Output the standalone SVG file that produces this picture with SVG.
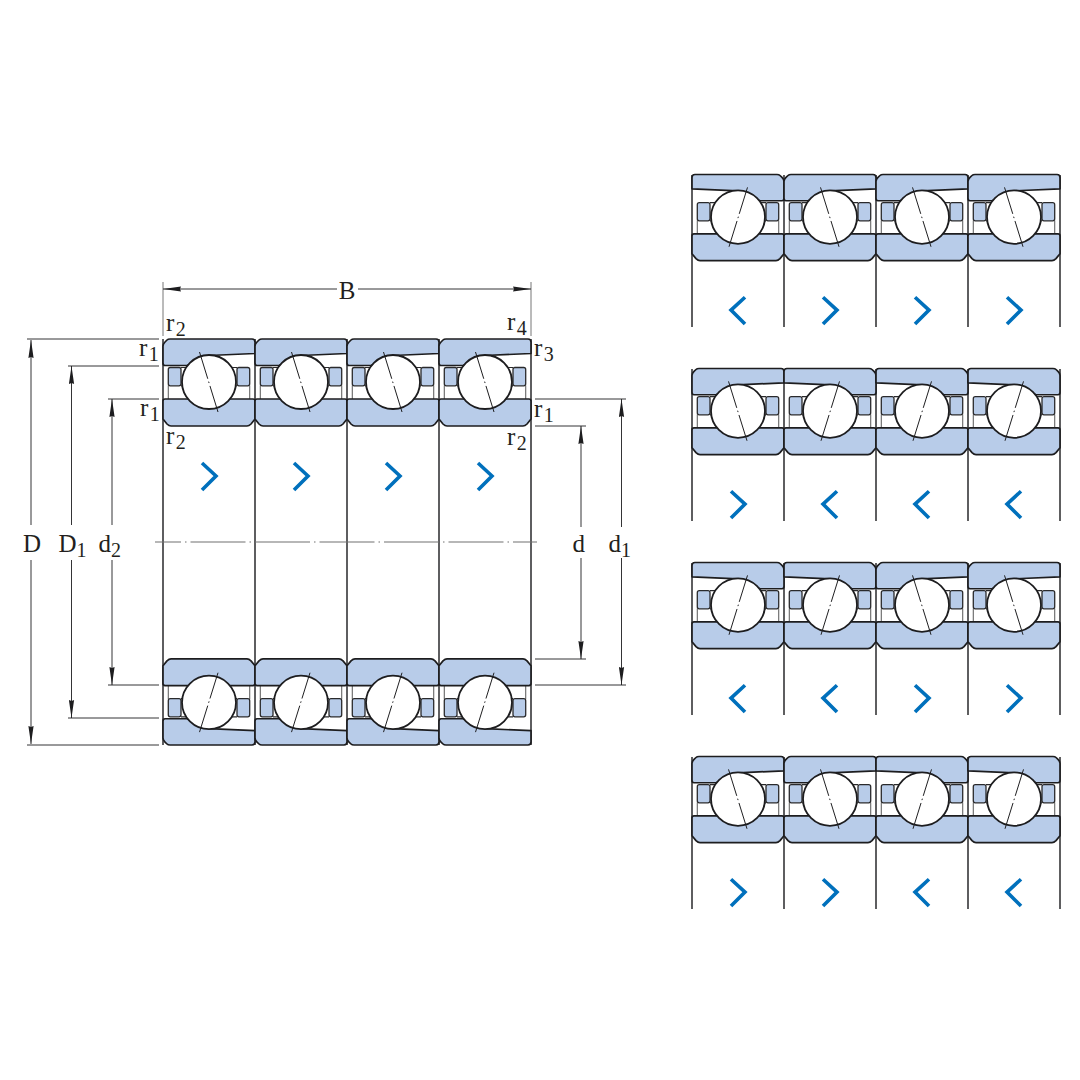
<svg xmlns="http://www.w3.org/2000/svg" width="1080" height="1080" viewBox="0 0 1080 1080">
<style>
.ring{fill:#b8cce9;stroke:#1d1d1f;stroke-width:1.7;stroke-linejoin:round}
.pocket{fill:#b8cce9;stroke:#2a2a2c;stroke-width:1.3}
.cage{fill:none;stroke:#666;stroke-width:1.1}
.cagedark{fill:none;stroke:#2a2a2c;stroke-width:1.2}
.ball{fill:#fff;stroke:#1d1d1f;stroke-width:1.8}
.axis{fill:none;stroke:#1d1d1f;stroke-width:1;stroke-dasharray:28 3 1.5 3 30}
.wall{stroke:#2a2a2c;stroke-width:1.5;fill:none}
.chev{fill:none;stroke:#0070bc;stroke-width:3.6}
.ext{stroke:#1d1d1f;stroke-width:.9;fill:none}
.ext2{stroke:#777;stroke-width:1;fill:none}
.dim{stroke:#1d1d1f;stroke-width:.9;fill:none}
.arr{marker-end:url(#ah)}
.arrs{marker-start:url(#ahs)}
.center{stroke:#707070;stroke-width:1.1;fill:none;stroke-dasharray:1.500 4 55 4;stroke-dashoffset:34.500}
text{font-family:"Liberation Serif","Times New Roman",serif;font-size:25px;fill:#231f20}
.sub{font-size:20px}
</style>
<defs>
<marker id="ah" markerUnits="userSpaceOnUse" markerWidth="18" markerHeight="6" refX="18" refY="3" orient="auto"><path d="M0 0.4L18 3L0 5.6L1 3Z" fill="#1d1d1f"/></marker>
<marker id="ahs" markerUnits="userSpaceOnUse" markerWidth="18" markerHeight="6" refX="0" refY="3" orient="auto"><path d="M18 0.4L0 3L18 5.6L17 3Z" fill="#1d1d1f"/></marker>
<g id="bearing">
<path class="cage" d="M5.300 46.500V60M86.700 46.500V60"/>
<path class="cagedark" d="M18 28.500H74M18 46.800H74"/>
<rect class="pocket" x="5.300" y="28.500" width="12.700" height="18.300" rx="2"/>
<rect class="pocket" x="74" y="28.500" width="12.700" height="18.300" rx="2"/>
<path class="ring" d="M7 0H89Q92 0 92 3V14.500L46 16.500L24 26.500H2Q0 26.500 0 24V7Q0 5 2 3L4 1Q5 0 7 0Z"/>
<path class="ring" d="M2 60H90Q92 60 92 62V80L88 85Q86 87 84 87H8Q6 87 4 85L0 80V62Q0 60 2 60Z"/>
<circle class="ball" cx="46" cy="43" r="27"/>
<path class="axis" d="M36.500 13L55 73"/>
</g>
<g id="up-r"><use href="#bearing"/><path class="chev" d="M39 124L53 137L39 151"/></g>
<g id="up-l"><use href="#bearing" transform="translate(92,0) scale(-1,1)"/><path class="chev" d="M53 124L39 137L53 151"/></g>
</defs>

<g id="outline">
<path class="wall" d="M163 339V745M255 339V745M347 339V745M439 339V745M531 339V745"/>
<path class="wall" d="M692 175V327M784 175V327M876 175V327M968 175V327M1060 175V327"/>
<path class="wall" d="M692 369V521M784 369V521M876 369V521M968 369V521M1060 369V521"/>
<path class="wall" d="M692 563V715M784 563V715M876 563V715M968 563V715M1060 563V715"/>
<path class="wall" d="M692 757V909M784 757V909M876 757V909M968 757V909M1060 757V909"/>
</g>

<g id="main-top">
<g id="m-t1"><use href="#up-r" transform="translate(163,339)"/></g>
<g id="m-t2"><use href="#up-r" transform="translate(255,339)"/></g>
<g id="m-t3"><use href="#up-r" transform="translate(347,339)"/></g>
<g id="m-t4"><use href="#up-r" transform="translate(439,339)"/></g>
</g>
<g id="main-bottom">
<g id="m-b1"><use href="#bearing" transform="translate(163,745) scale(1,-.99)"/></g>
<g id="m-b2"><use href="#bearing" transform="translate(255,745) scale(1,-.99)"/></g>
<g id="m-b3"><use href="#bearing" transform="translate(347,745) scale(1,-.99)"/></g>
<g id="m-b4"><use href="#bearing" transform="translate(439,745) scale(1,-.99)"/></g>
</g>

<g id="row1">
<g id="r1-1"><use href="#up-l" transform="translate(692,174.500) scale(1,.99)"/></g>
<g id="r1-2"><use href="#up-r" transform="translate(784,174.500) scale(1,.99)"/></g>
<g id="r1-3"><use href="#up-r" transform="translate(876,174.500) scale(1,.99)"/></g>
<g id="r1-4"><use href="#up-r" transform="translate(968,174.500) scale(1,.99)"/></g>
</g>
<g id="row2">
<g id="r2-1"><use href="#up-r" transform="translate(692,368.500) scale(1,.99)"/></g>
<g id="r2-2"><use href="#up-l" transform="translate(784,368.500) scale(1,.99)"/></g>
<g id="r2-3"><use href="#up-l" transform="translate(876,368.500) scale(1,.99)"/></g>
<g id="r2-4"><use href="#up-l" transform="translate(968,368.500) scale(1,.99)"/></g>
</g>
<g id="row3">
<g id="r3-1"><use href="#up-l" transform="translate(692,562.500) scale(1,.99)"/></g>
<g id="r3-2"><use href="#up-l" transform="translate(784,562.500) scale(1,.99)"/></g>
<g id="r3-3"><use href="#up-r" transform="translate(876,562.500) scale(1,.99)"/></g>
<g id="r3-4"><use href="#up-r" transform="translate(968,562.500) scale(1,.99)"/></g>
</g>
<g id="row4">
<g id="r4-1"><use href="#up-r" transform="translate(692,756.500) scale(1,.99)"/></g>
<g id="r4-2"><use href="#up-r" transform="translate(784,756.500) scale(1,.99)"/></g>
<g id="r4-3"><use href="#up-l" transform="translate(876,756.500) scale(1,.99)"/></g>
<g id="r4-4"><use href="#up-l" transform="translate(968,756.500) scale(1,.99)"/></g>
</g>

<g id="connectors">
<path class="center" d="M155 542H537"/>
<path class="ext2" d="M163 282V336M531 282V336"/>
<path class="ext" d="M27 339H159M27 745H159M68 366H159M68 718H159M108 399H159M108 685H159"/>
<path class="ext" d="M535 399H626M535 685H626M535 426H586M535 659H586"/>
<path class="dim arrs" d="M163 289H337"/>
<path class="dim arr" d="M358 289H531"/>
<path class="dim arrs" d="M31 340V525"/><path class="dim arr" d="M31 560V744"/>
<path class="dim arrs" d="M71.500 366V525"/><path class="dim arr" d="M71.500 560V718"/>
<path class="dim arrs" d="M112 399V525"/><path class="dim arr" d="M112 560V685"/>
<path class="dim arrs" d="M581 426V527"/><path class="dim arr" d="M581 558V659"/>
<path class="dim arrs" d="M621.500 399V527"/><path class="dim arr" d="M621.500 558V685"/>
</g>

<g id="labels">
<text x="347" y="299" text-anchor="middle">B</text>
<text x="32" y="551.500" text-anchor="middle">D</text>
<text x="58.500" y="551.500">D<tspan class="sub" dy="5">1</tspan></text>
<text x="98.500" y="551.500">d<tspan class="sub" dy="5">2</tspan></text>
<text x="572.500" y="551.500">d</text>
<text x="608.500" y="551.500">d<tspan class="sub" dy="5">1</tspan></text>
<text x="166" y="331">r<tspan class="sub" dx="1.500" dy="5">2</tspan></text>
<text x="507" y="330">r<tspan class="sub" dx="1.500" dy="5">4</tspan></text>
<text x="139" y="356">r<tspan class="sub" dx="1.500" dy="5">1</tspan></text>
<text x="534" y="356">r<tspan class="sub" dx="1.500" dy="5">3</tspan></text>
<text x="140" y="416">r<tspan class="sub" dx="1.500" dy="5">1</tspan></text>
<text x="534" y="417">r<tspan class="sub" dx="1.500" dy="5">1</tspan></text>
<text x="166" y="444">r<tspan class="sub" dx="1.500" dy="5">2</tspan></text>
<text x="507" y="445">r<tspan class="sub" dx="1.500" dy="5">2</tspan></text>
</g>
</svg>
